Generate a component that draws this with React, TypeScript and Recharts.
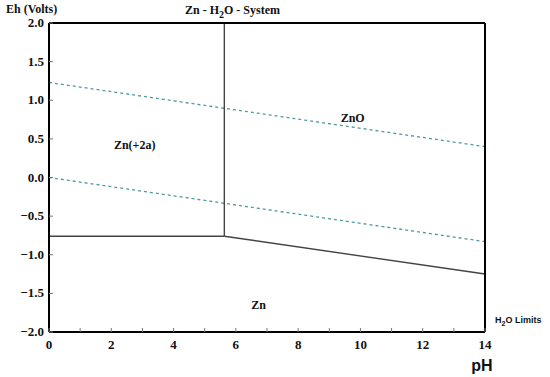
import { LineChart, Line, XAxis, YAxis, ReferenceDot } from "recharts";

// pH tick positions (labels only on even values)
const phTicks = [0, 1, 2, 3, 4, 5, 6, 7, 8, 9, 10, 11, 12, 13, 14];
const ehTicks = [-2, -1.5, -1, -0.5, 0, 0.5, 1, 1.5, 2];

// water stability limits (dashed)
const o2Limit = [
  { ph: 0, eh: 1.23 },
  { ph: 14, eh: 0.4 },
];
const h2Limit = [
  { ph: 0, eh: 0.0 },
  { ph: 14, eh: -0.83 },
];

// phase boundaries (solid)
const znIonToZn = [
  { ph: 0, eh: -0.76 },
  { ph: 5.63, eh: -0.76 },
];
const znOToZn = [
  { ph: 5.63, eh: -0.76 },
  { ph: 14, eh: -1.25 },
];
const znIonToZnO = [
  { ph: 5.63, eh: -0.76 },
  { ph: 5.63, eh: 2.0 },
];

const regions = [
  { name: "Zn(+2a)", ph: 2.75, eh: 0.42 },
  { name: "ZnO", ph: 9.75, eh: 0.78 },
  { name: "Zn", ph: 6.73, eh: -1.65 },
];

const serif = "'Liberation Serif', 'DejaVu Serif', serif";
const sans = "'Liberation Sans', Arial, sans-serif";

const fmtEh = (v: number) => (v < 0 ? "\u2212" + Math.abs(v).toFixed(1) : v.toFixed(1));

const serifBold = { fontFamily: serif, fontWeight: 700, fontSize: 13, fill: "#111" };
const TICK = 4;
const tickColor = "#777";

// ticks drawn by hand so they point into the plot and use the serif font
function BottomTick(props: any) {
  const { x, y, payload } = props;
  const v = payload.value as number;
  return (
    <g>
      <line x1={x} x2={x} y1={y} y2={y - TICK} stroke={tickColor} />
      {v % 2 === 0 && (
        <text x={x} y={y + 17} textAnchor="middle" style={serifBold}>
          {v}
        </text>
      )}
    </g>
  );
}
function TopTick(props: any) {
  const { x, y } = props;
  return <line x1={x} x2={x} y1={y} y2={y + TICK} stroke={tickColor} />;
}
function LeftTick(props: any) {
  const { x, y, payload } = props;
  return (
    <g>
      <line x1={x} x2={x + TICK} y1={y} y2={y} stroke={tickColor} />
      <text x={x - 5} y={y + 4} textAnchor="end" style={serifBold}>
        {fmtEh(payload.value)}
      </text>
    </g>
  );
}
function RightTick(props: any) {
  const { x, y } = props;
  return <line x1={x} x2={x - TICK} y1={y} y2={y} stroke={tickColor} />;
}

export default function App() {
  return (
    <div style={{ position: "absolute", left: 0, top: 0, width: 550, height: 377, background: "#fff" }}>
      <LineChart
        width={550}
        height={377}
        margin={{ top: 22, right: 64, left: 0, bottom: 15 }}
      >
        <XAxis
          xAxisId="b"
          type="number"
          dataKey="ph"
          domain={[0, 14]}
          ticks={phTicks}
          interval={0}
          height={30}
          tickSize={0}
          tickMargin={0}
          tick={BottomTick}
          axisLine={{ stroke: "#000", strokeWidth: 2 }}
          tickLine={false}
        />
        <XAxis
          xAxisId="t"
          orientation="top"
          type="number"
          dataKey="ph"
          domain={[0, 14]}
          ticks={phTicks}
          interval={0}
          height={1}
          tickSize={0}
          tickMargin={0}
          tick={TopTick}
          axisLine={{ stroke: "#000", strokeWidth: 2 }}
          tickLine={false}
        />
        <YAxis
          yAxisId="l"
          type="number"
          dataKey="eh"
          domain={[-2, 2]}
          ticks={ehTicks}
          interval={0}
          width={49}
          tickSize={0}
          tickMargin={0}
          tick={LeftTick}
          axisLine={{ stroke: "#000", strokeWidth: 2 }}
          tickLine={false}
        />
        <YAxis
          yAxisId="r"
          orientation="right"
          type="number"
          dataKey="eh"
          domain={[-2, 2]}
          ticks={ehTicks}
          interval={0}
          width={1}
          tickSize={0}
          tickMargin={0}
          tick={RightTick}
          axisLine={{ stroke: "#000", strokeWidth: 2 }}
          tickLine={false}
        />
        {[o2Limit, h2Limit].map((d, i) => (
          <Line
            key={"w" + i}
            xAxisId="b"
            yAxisId="l"
            data={d}
            dataKey="eh"
            stroke="#4f9a9a"
            strokeWidth={1.3}
            strokeDasharray="3 3"
            dot={false}
            isAnimationActive={false}
          />
        ))}
        {[znIonToZn, znOToZn, znIonToZnO].map((d, i) => (
          <Line
            key={"s" + i}
            xAxisId="b"
            yAxisId="l"
            data={d}
            dataKey="eh"
            stroke="#444"
            strokeWidth={1.4}
            dot={false}
            isAnimationActive={false}
          />
        ))}
        {regions.map((r) => (
          <ReferenceDot
            key={r.name}
            xAxisId="b"
            yAxisId="l"
            x={r.ph}
            y={r.eh}
            r={0}
            stroke="none"
            fill="none"
            label={{
              value: r.name,
              position: "center",
              style: { ...serifBold, fontSize: 12 },
            }}
          />
        ))}
        <text x={6} y={13} style={{ ...serifBold, fontSize: 12 }}>
          Eh (Volts)
        </text>
        <text x={185} y={14} style={{ ...serifBold, fontSize: 12 }}>
          Zn - H<tspan dy={4} style={{ fontSize: 10 }}>2</tspan>
          <tspan dy={-4}>O - System</tspan>
        </text>
        <text x={495} y={323} style={{ fontFamily: sans, fontWeight: 700, fontSize: 9, fill: "#111" }}>
          H<tspan dy={3} style={{ fontSize: 7 }}>2</tspan>
          <tspan dy={-3}>O Limits</tspan>
        </text>
        <text
          x={482}
          y={371}
          textAnchor="middle"
          style={{ fontFamily: sans, fontWeight: 700, fontSize: 16, fill: "#111" }}
        >
          pH
        </text>
      </LineChart>
    </div>
  );
}
